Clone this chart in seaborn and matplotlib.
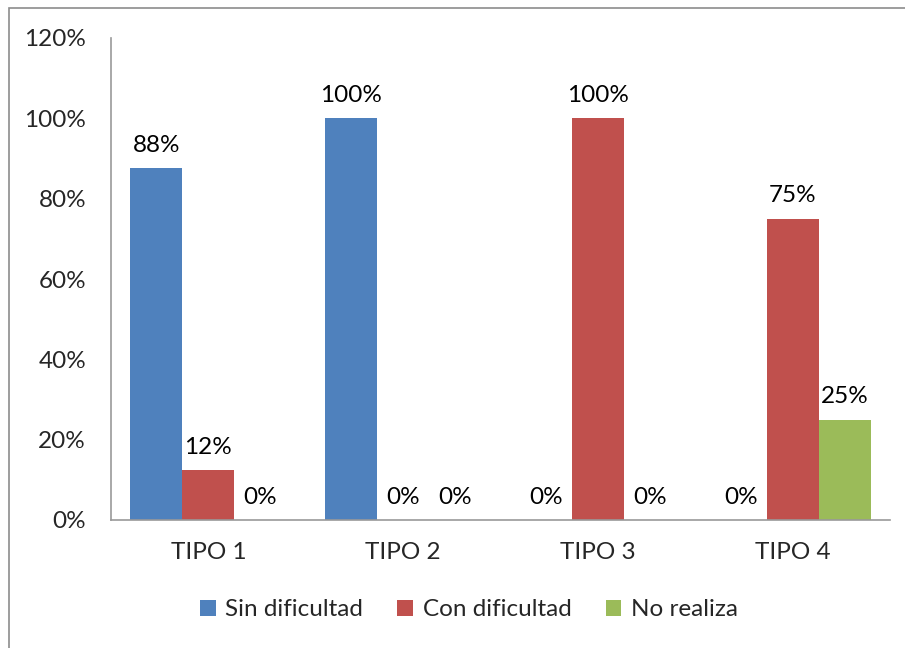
import matplotlib
matplotlib.use("Agg")
import matplotlib.pyplot as plt
from matplotlib.patches import Rectangle
import seaborn as sns
import pandas as pd

categories = ["TIPO 1", "TIPO 2", "TIPO 3", "TIPO 4"]
series = ["Sin dificultad", "Con dificultad", "No realiza"]
sin_dificultad = [87.6, 100, 0, 0]
con_dificultad = [12.4, 0, 100, 75]
no_realiza = [0, 0, 0, 25]
y_ticks = [0, 20, 40, 60, 80, 100, 120]
colors = ["#4F81BD", "#C0504D", "#9BBB59"]

rows = []
for name, vals in zip(series, [sin_dificultad, con_dificultad, no_realiza]):
    for c, v in zip(categories, vals):
        rows.append({"tipo": c, "serie": name, "valor": v})
df = pd.DataFrame(rows)

sns.set_style("white")
plt.rcParams["font.family"] = ["Lato", "DejaVu Sans"]
FS = 17.5

fig = plt.figure(figsize=(9.05, 6.48), dpi=100)
W, H = 905, 648
ax = fig.add_axes([111 / W, 1 - 520 / H, (890 - 111) / W, (520 - 38) / H])

sns.barplot(data=df, x="tipo", y="valor", hue="serie", order=categories,
            hue_order=series, palette=colors, width=0.8, ax=ax,
            errorbar=None, saturation=1, legend=True, linewidth=0)

for cont in ax.containers:
    labels = [f"{b.get_height():.0f}%" for b in cont]
    ax.bar_label(cont, labels=labels, padding=9, fontsize=FS, color="black")

ax.set_ylim(0, 120)
ax.set_xlim(-0.5, 3.5)
ax.set_yticks(y_ticks)
ax.set_yticklabels([f"{t}%" for t in y_ticks])
ax.set_xlabel("")
ax.set_ylabel("")
ax.tick_params(axis="y", length=0, pad=18, labelsize=FS)
ax.tick_params(axis="x", length=0, pad=16, labelsize=FS)
for s in ["top", "right"]:
    ax.spines[s].set_visible(False)
for s in ["left", "bottom"]:
    ax.spines[s].set_color("#999999")
    ax.spines[s].set_linewidth(1.2)

handles, labs = ax.get_legend_handles_labels()
ax.legend(handles, labs, loc="center", bbox_to_anchor=(469 / W, 1 - 610 / H),
          bbox_transform=fig.transFigure, ncol=3, frameon=False, fontsize=FS,
          handlelength=0.65, handleheight=0.65, handletextpad=0.4,
          columnspacing=1.4)

fig.add_artist(Rectangle((9 / W, -0.1), 1.2, 1.1 - 8 / H, transform=fig.transFigure,
                         fill=False, edgecolor="#8c8c8c", linewidth=1.2))

fig.savefig("out.png", dpi=100)
